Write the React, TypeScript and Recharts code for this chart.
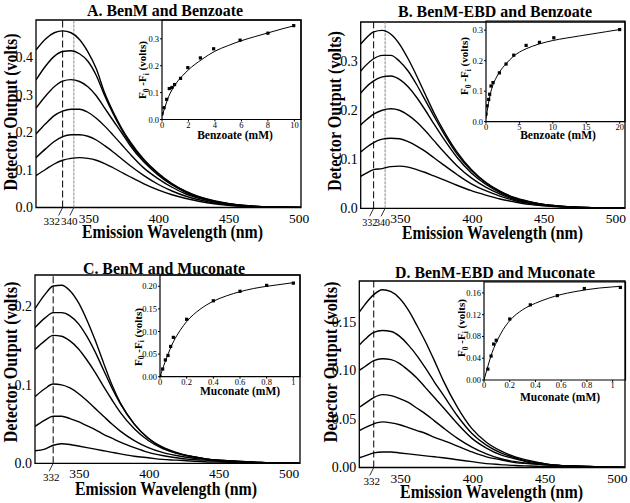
import React from 'react';
import {
  LineChart,
  Line,
  XAxis,
  YAxis,
  ReferenceLine,
  ReferenceArea,
  ComposedChart,
  Scatter
} from 'recharts';

const SERIF = "'Liberation Serif', 'Times New Roman', serif";

// ---- Panel A: BenM and benzoate (emission spectra) ----
const waveA = [313, 320, 326, 332, 338, 344, 350, 356, 362, 368, 374, 380, 390, 400, 410, 420, 430, 440, 450, 460, 470, 480, 490, 502];
const specA1 = [0.42, 0.45, 0.466, 0.471, 0.466, 0.448, 0.415, 0.37, 0.305, 0.255, 0.212, 0.176, 0.128, 0.092, 0.064, 0.043, 0.028, 0.018, 0.011, 0.006, 0.003, 0.0015, 0.0005, 0];
const specA2 = [0.34, 0.378, 0.403, 0.416, 0.418, 0.41, 0.39, 0.352, 0.298, 0.25, 0.208, 0.172, 0.125, 0.09, 0.062, 0.042, 0.027, 0.017, 0.01, 0.006, 0.003, 0.0015, 0.0005, 0];
const specA3 = [0.265, 0.298, 0.322, 0.337, 0.341, 0.336, 0.322, 0.298, 0.265, 0.232, 0.2, 0.166, 0.121, 0.087, 0.06, 0.04, 0.026, 0.016, 0.01, 0.005, 0.003, 0.0015, 0.0005, 0];
const specA4 = [0.196, 0.224, 0.245, 0.257, 0.262, 0.262, 0.254, 0.238, 0.217, 0.193, 0.168, 0.143, 0.105, 0.077, 0.054, 0.036, 0.024, 0.015, 0.009, 0.005, 0.0025, 0.001, 0.0005, 0];
const specA5 = [0.133, 0.157, 0.176, 0.189, 0.194, 0.194, 0.19, 0.18, 0.165, 0.148, 0.13, 0.112, 0.085, 0.062, 0.044, 0.03, 0.02, 0.012, 0.007, 0.004, 0.002, 0.001, 0.0005, 0];
const specA6 = [0.085, 0.102, 0.116, 0.126, 0.131, 0.133, 0.131, 0.126, 0.117, 0.106, 0.094, 0.082, 0.063, 0.047, 0.034, 0.024, 0.016, 0.01, 0.006, 0.003, 0.0015, 0.001, 0.0005, 0];

// inset A: benzoate titration
const titrAx = [0, 0.15, 0.35, 0.55, 0.75, 0.95, 1.4, 1.95, 2.9, 3.9, 5.9, 8, 9.95];
const titrAy = [0.022, 0.044, 0.075, 0.115, 0.119, 0.13, 0.153, 0.193, 0.229, 0.263, 0.295, 0.321, 0.349];
const fitAx = [0, 0.25, 0.5, 0.75, 1, 1.5, 2, 3, 4, 5, 6, 7, 8, 9, 10];
const fitAy = [0.012, 0.05, 0.085, 0.11, 0.13, 0.16, 0.185, 0.223, 0.254, 0.275, 0.293, 0.308, 0.322, 0.336, 0.349];

// ---- Panel B: BenM-EBD and benzoate ----
const waveB = [323, 326, 332, 338, 344, 350, 356, 362, 368, 374, 380, 390, 400, 410, 420, 430, 440, 450, 460, 470, 480, 490, 500, 507];
const specB1 = [0.335, 0.345, 0.36, 0.363, 0.355, 0.335, 0.305, 0.27, 0.232, 0.195, 0.162, 0.115, 0.079, 0.053, 0.035, 0.022, 0.014, 0.008, 0.005, 0.003, 0.0015, 0.0007, 0.0002, 0];
const specB2 = [0.28, 0.29, 0.305, 0.312, 0.312, 0.3, 0.28, 0.252, 0.22, 0.188, 0.157, 0.111, 0.077, 0.052, 0.034, 0.021, 0.013, 0.008, 0.005, 0.003, 0.0015, 0.0007, 0.0002, 0];
const specB3 = [0.235, 0.245, 0.26, 0.268, 0.27, 0.263, 0.248, 0.226, 0.2, 0.172, 0.145, 0.104, 0.072, 0.049, 0.032, 0.02, 0.013, 0.008, 0.005, 0.003, 0.0015, 0.0007, 0.0002, 0];
const specB4 = [0.17, 0.178, 0.192, 0.2, 0.203, 0.2, 0.19, 0.176, 0.158, 0.138, 0.118, 0.087, 0.062, 0.043, 0.029, 0.018, 0.011, 0.007, 0.004, 0.0025, 0.0013, 0.0006, 0.0002, 0];
const specB5 = [0.115, 0.122, 0.134, 0.141, 0.143, 0.142, 0.136, 0.127, 0.116, 0.103, 0.09, 0.069, 0.05, 0.036, 0.025, 0.016, 0.01, 0.006, 0.004, 0.002, 0.001, 0.0005, 0.0002, 0];
const specB6 = [0.065, 0.07, 0.079, 0.081, 0.085, 0.086, 0.084, 0.079, 0.073, 0.066, 0.059, 0.047, 0.036, 0.027, 0.019, 0.013, 0.008, 0.005, 0.003, 0.002, 0.001, 0.0005, 0.0002, 0];

const titrBx = [0, 0.15, 0.4, 0.55, 0.75, 1.05, 2, 3, 4.15, 6, 8, 10.15, 20];
const titrBy = [0.025, 0.052, 0.073, 0.09, 0.117, 0.128, 0.16, 0.189, 0.218, 0.25, 0.26, 0.275, 0.302];
const fitBx = [0, 0.25, 0.5, 0.75, 1, 1.5, 2, 3, 4, 5, 6, 8, 10, 12, 14, 16, 18, 20];
const fitBy = [0.012, 0.045, 0.075, 0.1, 0.118, 0.143, 0.162, 0.19, 0.212, 0.228, 0.239, 0.255, 0.266, 0.274, 0.281, 0.288, 0.295, 0.302];

// ---- Panel C: BenM and muconate ----
const waveC = [319, 326, 332, 338, 344, 350, 356, 362, 368, 374, 380, 390, 400, 410, 420, 430, 440, 450, 460, 470, 480, 490, 500, 508];
const specC1 = [0.197, 0.215, 0.226, 0.227, 0.22, 0.205, 0.183, 0.157, 0.128, 0.1, 0.077, 0.05, 0.032, 0.02, 0.013, 0.009, 0.006, 0.004, 0.003, 0.002, 0.001, 0.0005, 0.0002, 0];
const specC2 = [0.173, 0.185, 0.192, 0.192, 0.188, 0.178, 0.162, 0.142, 0.119, 0.096, 0.076, 0.05, 0.032, 0.021, 0.014, 0.009, 0.006, 0.004, 0.003, 0.002, 0.001, 0.0005, 0.0002, 0];
const specC3 = [0.145, 0.156, 0.163, 0.162, 0.156, 0.146, 0.132, 0.116, 0.098, 0.081, 0.065, 0.044, 0.029, 0.019, 0.013, 0.009, 0.006, 0.004, 0.003, 0.002, 0.001, 0.0005, 0.0002, 0];
const specC4 = [0.085, 0.095, 0.101, 0.1, 0.096, 0.089, 0.08, 0.07, 0.06, 0.05, 0.041, 0.029, 0.02, 0.014, 0.01, 0.007, 0.005, 0.003, 0.002, 0.0015, 0.001, 0.0005, 0.0002, 0];
const specC5 = [0.047, 0.055, 0.06, 0.06, 0.057, 0.053, 0.048, 0.043, 0.037, 0.032, 0.027, 0.02, 0.014, 0.01, 0.007, 0.005, 0.004, 0.003, 0.002, 0.001, 0.0007, 0.0004, 0.0002, 0];
const specC6 = [0.016, 0.018, 0.023, 0.025, 0.024, 0.022, 0.02, 0.018, 0.016, 0.014, 0.012, 0.009, 0.007, 0.005, 0.004, 0.003, 0.002, 0.0015, 0.001, 0.0007, 0.0005, 0.0003, 0.0001, 0];

const titrCx = [0, 0.02, 0.04, 0.06, 0.08, 0.1, 0.2, 0.4, 0.6, 0.8, 1.0];
const titrCy = [0.001, 0.017, 0.037, 0.047, 0.067, 0.087, 0.127, 0.168, 0.189, 0.202, 0.207];
const fitCx = [0, 0.05, 0.1, 0.15, 0.2, 0.3, 0.4, 0.5, 0.6, 0.7, 0.8, 0.9, 1];
const fitCy = [0, 0.042, 0.077, 0.102, 0.122, 0.149, 0.167, 0.179, 0.188, 0.195, 0.2, 0.204, 0.208];

// ---- Panel D: BenM-EBD and muconate ----
const waveD = [322, 326, 332, 338, 344, 350, 356, 362, 368, 374, 380, 390, 400, 410, 420, 430, 440, 450, 460, 470, 480, 490, 500, 506];
const specD1 = [0.16, 0.168, 0.178, 0.183, 0.181, 0.174, 0.162, 0.146, 0.129, 0.11, 0.09, 0.062, 0.04, 0.026, 0.017, 0.011, 0.007, 0.004, 0.002, 0.0015, 0.001, 0.0005, 0.0002, 0];
const specD2 = [0.126, 0.132, 0.139, 0.141, 0.14, 0.135, 0.126, 0.115, 0.102, 0.088, 0.075, 0.053, 0.035, 0.023, 0.015, 0.01, 0.006, 0.004, 0.002, 0.0015, 0.001, 0.0005, 0.0002, 0];
const specD3 = [0.1, 0.104, 0.11, 0.112, 0.111, 0.107, 0.1, 0.092, 0.082, 0.072, 0.062, 0.045, 0.03, 0.02, 0.013, 0.009, 0.005, 0.003, 0.002, 0.0015, 0.001, 0.0005, 0.0002, 0];
const specD4 = [0.062, 0.066, 0.072, 0.075, 0.074, 0.071, 0.067, 0.061, 0.055, 0.048, 0.041, 0.03, 0.021, 0.014, 0.009, 0.006, 0.004, 0.003, 0.002, 0.001, 0.0007, 0.0004, 0.0002, 0];
const specD5 = [0.038, 0.041, 0.045, 0.047, 0.046, 0.044, 0.041, 0.038, 0.035, 0.031, 0.028, 0.022, 0.016, 0.011, 0.008, 0.005, 0.004, 0.003, 0.002, 0.001, 0.0007, 0.0004, 0.0002, 0];
const specD6 = [0.01, 0.012, 0.015, 0.016, 0.016, 0.015, 0.014, 0.013, 0.012, 0.011, 0.01, 0.008, 0.006, 0.004, 0.003, 0.002, 0.0015, 0.001, 0.0007, 0.0005, 0.0003, 0.0002, 0.0001, 0];

const titrDx = [0.03, 0.055, 0.075, 0.095, 0.2, 0.36, 0.57, 0.78, 1.06];
const titrDy = [0.02, 0.044, 0.066, 0.073, 0.112, 0.138, 0.155, 0.168, 0.17];
const fitDx = [0, 0.025, 0.05, 0.075, 0.1, 0.15, 0.2, 0.3, 0.4, 0.5, 0.6, 0.7, 0.8, 0.9, 1.0, 1.06];
const fitDy = [0, 0.021, 0.041, 0.058, 0.071, 0.093, 0.109, 0.129, 0.141, 0.15, 0.157, 0.162, 0.166, 0.169, 0.171, 0.172];

interface Marker {
  value: number;
  color: string;
  dash: string;
  labelShift: number;
}

interface SpectrumProps {
  left: number;
  top: number;
  width: number;
  height: number;
  plotLeft: number;
  plotTop: number;
  plotRight: number;
  plotBottom: number;
  wave: number[];
  curves: number[][];
  xDomain: [number, number];
  xTicks: number[];
  yMax: number;
  yTicks: number[];
  yDigits: number;
  markers: Marker[];
  markerFont: number;
}

const SpectrumPanel: React.FC<SpectrumProps> = ({
  left, top, width, height, plotLeft, plotTop, plotRight, plotBottom,
  wave, curves, xDomain, xTicks, yMax, yTicks, yDigits, markers, markerFont
}) => {
  const rows = wave.map((w, i) => {
    const row: any = { w };
    curves.forEach((c, k) => { row[`c${k}`] = c[i]; });
    return row;
  });

  // 332/340 get a slanted leader line, the rest are plain labels
  const renderTick = (props: any) => {
    const { x, payload } = props;
    const m = markers.find(mm => mm.value === payload.value);
    if (m) {
      return (
        <g>
          <line x1={x} y1={plotBottom} x2={x - 4} y2={plotBottom + 8} stroke="#000" strokeWidth={0.8} />
          <text x={x + m.labelShift} y={plotBottom + 17.5} textAnchor="middle" fontSize={markerFont} fontFamily={SERIF} fill="#000">
            {payload.value}
          </text>
        </g>
      );
    }
    return (
      <text x={x + 1} y={plotBottom + 15} textAnchor="middle" fontSize={13.5} fontFamily={SERIF} fill="#000">
        {payload.value}
      </text>
    );
  };

  return (
    <div style={{ position: 'absolute', left, top, width, height }}>
      <LineChart
        width={width}
        height={height}
        data={rows}
        margin={{ top: plotTop, right: width - plotRight, left: 0, bottom: 0 }}
      >
        <XAxis
          dataKey="w"
          type="number"
          domain={xDomain}
          ticks={xTicks}
          interval={0}
          allowDataOverflow
          height={height - plotBottom}
          axisLine={false}
          tickLine={false}
          tick={renderTick}
        />
        <YAxis
          type="number"
          domain={[0, yMax]}
          ticks={yTicks}
          interval={0}
          allowDataOverflow
          width={plotLeft}
          axisLine={false}
          tickLine={false}
          tickSize={0}
          tickMargin={3}
          tickFormatter={(v: number) => v.toFixed(yDigits)}
          tick={{ fill: '#000', fontSize: 14, fontFamily: SERIF }}
        />
        <ReferenceArea x1={xDomain[0]} x2={xDomain[1]} y1={0} y2={yMax} fill="none" stroke="#000" strokeWidth={1.3} />
        {markers.map(m => (
          <ReferenceLine key={m.value} x={m.value} stroke={m.color} strokeDasharray={m.dash} strokeWidth={1} />
        ))}
        {curves.map((_, k) => (
          <Line
            key={k}
            dataKey={`c${k}`}
            type="monotone"
            stroke="#000"
            strokeWidth={1.4}
            dot={false}
            isAnimationActive={false}
          />
        ))}
      </LineChart>
    </div>
  );
};

interface InsetProps {
  left: number;
  top: number;
  width: number;
  height: number;
  plotLeft: number;
  plotTop: number;
  plotRight: number;
  plotBottom: number;
  xMax: number;
  xTicks: number[];
  yMax: number;
  yTicks: number[];
  yDigits: number;
  ptX: number[];
  ptY: number[];
  fitX: number[];
  fitY: number[];
}

const TitrationInset: React.FC<InsetProps> = ({
  left, top, width, height, plotLeft, plotTop, plotRight, plotBottom,
  xMax, xTicks, yMax, yTicks, yDigits, ptX, ptY, fitX, fitY
}) => {
  const points = ptX.map((x, i) => ({ x, y: ptY[i] }));
  const fit = fitX.map((x, i) => ({ x, y: fitY[i] }));
  const tickStyle = { fill: '#000', fontSize: 8.5, fontFamily: SERIF };

  return (
    <div style={{ position: 'absolute', left, top, width, height }}>
      <ComposedChart
        width={width}
        height={height}
        margin={{ top: plotTop, right: width - plotRight, left: 0, bottom: 0 }}
      >
        <XAxis
          dataKey="x"
          type="number"
          domain={[0, xMax]}
          ticks={xTicks}
          interval={0}
          allowDataOverflow
          height={height - plotBottom}
          axisLine={false}
          tickSize={2}
          tickMargin={0}
          tick={tickStyle}
          stroke="#000"
        />
        <YAxis
          type="number"
          domain={[0, yMax]}
          ticks={yTicks}
          interval={0}
          allowDataOverflow
          width={plotLeft}
          axisLine={false}
          tickSize={2}
          tickMargin={1}
          tickFormatter={(v: number) => v.toFixed(yDigits)}
          tick={tickStyle}
          stroke="#000"
        />
        <ReferenceArea x1={0} x2={xMax} y1={0} y2={yMax} fill="#fff" fillOpacity={0} stroke="#000" strokeWidth={1.2} />
        <Line data={fit} dataKey="y" type="monotone" stroke="#000" strokeWidth={1} dot={false} isAnimationActive={false} />
        <Scatter
          data={points}
          dataKey="y"
          isAnimationActive={false}
          shape={(p: any) => <rect x={p.cx - 1.6} y={p.cy - 1.6} width={3.2} height={3.2} fill="#000" />}
        />
      </ComposedChart>
    </div>
  );
};

// rotated F0 - Fi label for the insets
const InsetYLabel = ({ x, y }: { x: number; y: number }) => (
  <text transform={`translate(${x},${y}) rotate(-90)`} textAnchor="middle" fontSize={11} fontWeight="bold" fontFamily={SERIF}>
    F<tspan dy={2.5} fontSize={7.5}>0</tspan><tspan dy={-2.5}> -F</tspan><tspan dy={2.5} fontSize={7.5}>i</tspan><tspan dy={-2.5}> (volts)</tspan>
  </text>
);

const titleProps = { fontSize: 17, fontWeight: 'bold' as const, fontFamily: SERIF, textAnchor: 'middle' as const, lengthAdjust: 'spacingAndGlyphs' };
const bigLabel = { fontSize: 19.5, fontWeight: 'bold' as const, fontFamily: SERIF, textAnchor: 'middle' as const, lengthAdjust: 'spacingAndGlyphs' };
const smallLabel = { fontSize: 11.5, fontWeight: 'bold' as const, fontFamily: SERIF, textAnchor: 'middle' as const };

const App: React.FC = () => {
  const dashed = '7 3';
  const dotted = '3 1';
  return (
    <div style={{ position: 'absolute', left: 0, top: 0, width: 630, height: 503, background: '#fff', overflow: 'hidden' }}>
      <SpectrumPanel
        left={0} top={0} width={315} height={250}
        plotLeft={36} plotTop={20} plotRight={301} plotBottom={207.5}
        wave={waveA} curves={[specA1, specA2, specA3, specA4, specA5, specA6]}
        xDomain={[313, 502]} xTicks={[332, 340, 350, 400, 450, 500]}
        yMax={0.5} yTicks={[0, 0.1, 0.2, 0.3, 0.4]} yDigits={1}
        markers={[
          { value: 332, color: '#000', dash: dashed, labelShift: -11 },
          { value: 340, color: '#888', dash: dotted, labelShift: -4.5 }
        ]}
        markerFont={11}
      />
      <SpectrumPanel
        left={315} top={0} width={315} height={250}
        plotLeft={45.7} plotTop={22} plotRight={310} plotBottom={208.3}
        wave={waveB} curves={[specB1, specB2, specB3, specB4, specB5, specB6]}
        xDomain={[323, 507]} xTicks={[332, 340, 350, 400, 450, 500]}
        yMax={0.38} yTicks={[0, 0.1, 0.2, 0.3]} yDigits={1}
        markers={[
          { value: 332, color: '#000', dash: dashed, labelShift: -4 },
          { value: 340, color: '#888', dash: dotted, labelShift: -2.5 }
        ]}
        markerFont={10}
      />
      <SpectrumPanel
        left={0} top={250} width={315} height={253}
        plotLeft={35} plotTop={25} plotRight={300} plotBottom={213.3}
        wave={waveC} curves={[specC1, specC2, specC3, specC4, specC5, specC6]}
        xDomain={[319, 508.5]} xTicks={[332, 350, 400, 450, 500]}
        yMax={0.24} yTicks={[0, 0.1, 0.2]} yDigits={1}
        markers={[{ value: 332, color: '#000', dash: dashed, labelShift: -2 }]}
        markerFont={11}
      />
      <SpectrumPanel
        left={315} top={250} width={315} height={253}
        plotLeft={44.3} plotTop={31} plotRight={310} plotBottom={217.5}
        wave={waveD} curves={[specD1, specD2, specD3, specD4, specD5, specD6]}
        xDomain={[322, 506]} xTicks={[332, 350, 400, 450, 500]}
        yMax={0.192} yTicks={[0, 0.05, 0.1, 0.15]} yDigits={2}
        markers={[{ value: 332, color: '#000', dash: dashed, labelShift: -2 }]}
        markerFont={11}
      />

      <TitrationInset
        left={132} top={15} width={172} height={118}
        plotLeft={30} plotTop={5} plotRight={169} plotBottom={104.5}
        xMax={10.5} xTicks={[0, 2, 4, 6, 8, 10]}
        yMax={0.37} yTicks={[0, 0.1, 0.2, 0.3]} yDigits={1}
        ptX={titrAx} ptY={titrAy} fitX={fitAx} fitY={fitAy}
      />
      <TitrationInset
        left={456} top={16} width={172} height={118}
        plotLeft={30} plotTop={5} plotRight={169} plotBottom={105.7}
        xMax={20.8} xTicks={[0, 5, 10, 15, 20]}
        yMax={0.33} yTicks={[0, 0.1, 0.2, 0.3]} yDigits={1}
        ptX={titrBx} ptY={titrBy} fitX={fitBx} fitY={fitBy}
      />
      <TitrationInset
        left={130} top={270} width={173} height={120}
        plotLeft={30} plotTop={5} plotRight={170} plotBottom={106.7}
        xMax={1.05} xTicks={[0, 0.2, 0.4, 0.6, 0.8, 1]}
        yMax={0.225} yTicks={[0, 0.05, 0.1, 0.15, 0.2]} yDigits={2}
        ptX={titrCx} ptY={titrCy} fitX={fitCx} fitY={fitCy}
      />
      <TitrationInset
        left={453.5} top={277} width={174.5} height={116}
        plotLeft={30} plotTop={5} plotRight={171.5} plotBottom={103}
        xMax={1.1} xTicks={[0, 0.2, 0.4, 0.6, 0.8, 1]}
        yMax={0.18} yTicks={[0, 0.04, 0.08, 0.12, 0.16]} yDigits={2}
        ptX={titrDx} ptY={titrDy} fitX={fitDx} fitY={fitDy}
      />

      {/* titles and axis labels */}
      <svg width={630} height={503} style={{ position: 'absolute', left: 0, top: 0, pointerEvents: 'none' }}>
        <text x={165} y={15.5} textLength={156} {...titleProps}>A. BenM and Benzoate</text>
        <text x={495} y={16.5} textLength={194} {...titleProps}>B. BenM-EBD and Benzoate</text>
        <text x={164} y={273.5} textLength={162} {...titleProps}>C. BenM and Muconate</text>
        <text x={495} y={278} textLength={200} {...titleProps}>D. BenM-EBD and Muconate</text>

        <text transform="translate(16.5,112) rotate(-90)" textLength={157} {...bigLabel} fontSize={19}>Detector Output  (volts)</text>
        <text transform="translate(341,111) rotate(-90)" textLength={160} {...bigLabel} fontSize={19}>Detector Output  (volts)</text>
        <text transform="translate(16.5,362) rotate(-90)" textLength={161} {...bigLabel} fontSize={19}>Detector Output  (volts)</text>
        <text transform="translate(337,362) rotate(-90)" textLength={161} {...bigLabel} fontSize={19}>Detector Output  (volts)</text>

        <text x={172.5} y={238} textLength={181} {...bigLabel}>Emission Wavelength (nm)</text>
        <text x={492.5} y={239} textLength={181} {...bigLabel}>Emission Wavelength (nm)</text>
        <text x={166} y={494.5} textLength={182} {...bigLabel}>Emission Wavelength (nm)</text>
        <text x={491.5} y={498} textLength={183} {...bigLabel}>Emission Wavelength (nm)</text>

        <text x={235} y={139} {...smallLabel}>Benzoate (mM)</text>
        <text x={558} y={139} {...smallLabel}>Benzoate (mM)</text>
        <text x={240} y={394.5} {...smallLabel}>Muconate (mM)</text>
        <text x={560} y={401} {...smallLabel}>Muconate (mM)</text>

        <InsetYLabel x={146} y={70} />
        <InsetYLabel x={468} y={66} />
        <InsetYLabel x={141.5} y={337} />
        <InsetYLabel x={465} y={328} />
      </svg>
    </div>
  );
};

export default App;
